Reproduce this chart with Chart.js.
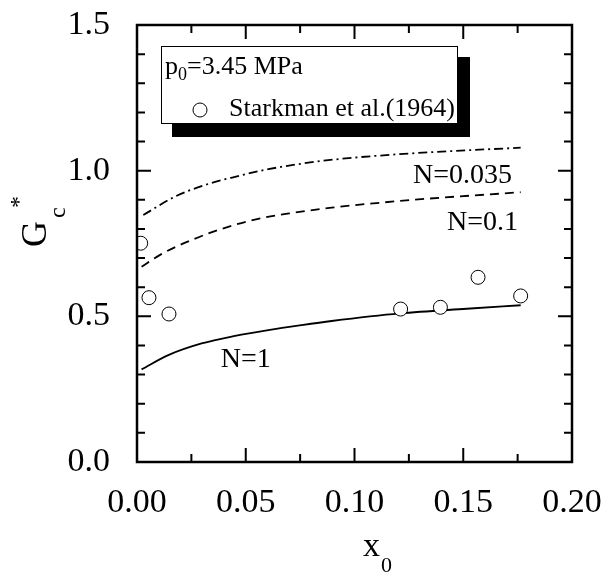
<!DOCTYPE html>
<html lang="en">
<head>
    <meta charset="UTF-8">
    <title>Gc* vs x0</title>
    <script src="https://cdn.jsdelivr.net/npm/chart.js"></script>
    <style>
        * {
            margin: 0;
            padding: 0;
            box-sizing: border-box;
        }

        body {
            background-color: #fff;
            width: 606px;
            height: 573px;
            overflow: hidden;
        }

        canvas {
            display: block;
        }
    </style>
</head>
<body>
    <canvas id="gcChart" width="606" height="573"></canvas>

    <script>
        // curves (model, three values of N)
        const xN1 = [0.0021, 0.0144, 0.0297, 0.0451, 0.0604, 0.0757, 0.0895, 0.121, 0.1516, 0.1764];
        const yN1 = [0.318, 0.367, 0.407, 0.433, 0.453, 0.470, 0.484, 0.510, 0.526, 0.538];

        const xN01 = [0.0021, 0.0106, 0.0251, 0.0405, 0.0573, 0.0726, 0.0895, 0.1255, 0.1764];
        const yN01 = [0.670, 0.711, 0.762, 0.804, 0.837, 0.856, 0.873, 0.899, 0.926];

        const xN0035 = [0.0029, 0.0175, 0.0313, 0.0451, 0.0604, 0.0757, 0.0903, 0.1255, 0.1764];
        const yN0035 = [0.848, 0.911, 0.951, 0.979, 1.005, 1.024, 1.038, 1.059, 1.079];

        // Starkman et al. (1964)
        const xExp = [0.0017, 0.0055, 0.0147, 0.1212, 0.1395, 0.1568, 0.1764];
        const yExp = [0.751, 0.564, 0.508, 0.525, 0.531, 0.634, 0.570];

        const xTicks = [0, 0.05, 0.10, 0.15, 0.20];
        const yTicks = [0, 0.5, 1.0, 1.5];

        // curve labels: text, x, y (data units, left/baseline)
        const curveLabels = [
            ['N=0.035', 0.1269, 0.958],
            ['N=0.1', 0.1425, 0.797],
            ['N=1', 0.0385, 0.326]
        ];

        const SERIF = "'Liberation Serif', 'Times New Roman', serif";

        function toPoints(xs, ys) {
            return xs.map((x, i) => ({ x: x, y: ys[i] }));
        }

        function lineSet(xs, ys, dash) {
            return {
                data: toPoints(xs, ys),
                showLine: true,
                borderColor: '#000',
                borderWidth: 1.8,
                borderDash: dash,
                pointRadius: 0,
                cubicInterpolationMode: 'monotone',
                fill: false
            };
        }

        function sub(ctx, str, size, x, y) {
            ctx.font = size + 'px ' + SERIF;
            ctx.fillText(str, x, y);
            return x + ctx.measureText(str).width;
        }

        // no extra room for overhanging tick labels, the layout padding handles it
        function fixBox(s, w, h) {
            if (w) s.width = w;
            if (h) s.height = h;
            s.paddingTop = 0;
            s.paddingBottom = 0;
            s.paddingLeft = 0;
            s.paddingRight = 0;
        }

        const framePlugin = {
            id: 'frame',
            afterDatasetsDraw(chart) {
                const ctx = chart.ctx;
                const a = chart.chartArea;
                const xs = chart.scales.x;
                const ys = chart.scales.y;
                ctx.save();
                ctx.strokeStyle = '#000';
                ctx.fillStyle = '#000';

                // inward ticks, all four sides
                ctx.lineWidth = 2;
                ctx.beginPath();
                for (let i = 0; i <= 8; i++) {
                    const px = xs.getPixelForValue(i * 0.025);
                    const len = i % 2 === 0 ? 14 : 8;
                    ctx.moveTo(px, a.bottom); ctx.lineTo(px, a.bottom - len);
                    ctx.moveTo(px, a.top); ctx.lineTo(px, a.top + len);
                }
                for (let i = 0; i <= 15; i++) {
                    const py = ys.getPixelForValue(i * 0.1);
                    const len = i % 5 === 0 ? 14 : 8;
                    ctx.moveTo(a.left, py); ctx.lineTo(a.left + len, py);
                    ctx.moveTo(a.right, py); ctx.lineTo(a.right - len, py);
                }
                ctx.stroke();

                ctx.lineWidth = 2.5;
                ctx.strokeRect(a.left, a.top, a.right - a.left, a.bottom - a.top);

                // legend box with shadow
                ctx.fillRect(172, 57, 298, 80);
                ctx.fillStyle = '#fff';
                ctx.fillRect(161, 46, 297, 77);
                ctx.lineWidth = 1;
                ctx.strokeRect(161.5, 46.5, 296, 77);
                ctx.fillStyle = '#000';
                ctx.textBaseline = 'alphabetic';
                ctx.textAlign = 'left';
                let tx = sub(ctx, 'p', 26, 165, 74);
                tx = sub(ctx, '0', 18, tx, 80);
                sub(ctx, '=3.45 MPa', 26, tx, 74);
                ctx.beginPath();
                ctx.arc(200, 110, 7, 0, Math.PI * 2);
                ctx.stroke();
                sub(ctx, 'Starkman et al.(1964)', 26, 229, 116);

                // curve labels
                curveLabels.forEach(l => {
                    sub(ctx, l[0], 28, xs.getPixelForValue(l[1]), ys.getPixelForValue(l[2]));
                });

                // axis titles
                tx = sub(ctx, 'x', 34, 363, 556);
                sub(ctx, '0', 22, tx + 1, 572);

                ctx.save();
                ctx.translate(46, 247);
                ctx.rotate(-Math.PI / 2);
                sub(ctx, 'G', 36, 0, 0);
                sub(ctx, 'c', 24, 29, 19);
                sub(ctx, '*', 24, 39, -20);
                ctx.restore();

                ctx.restore();
            }
        };

        new Chart(document.getElementById('gcChart'), {
            type: 'scatter',
            data: {
                datasets: [
                    lineSet(xN1, yN1, []),
                    lineSet(xN01, yN01, [9, 6]),
                    lineSet(xN0035, yN0035, [9, 4, 2, 4]),
                    {
                        data: toPoints(xExp, yExp),
                        showLine: false,
                        pointStyle: 'circle',
                        pointRadius: 7,
                        pointBorderWidth: 1,
                        pointBorderColor: '#000',
                        pointBackgroundColor: '#fff',
                        clip: { left: 0, right: false, top: false, bottom: false }
                    }
                ].reverse()
            },
            options: {
                responsive: false,
                animation: false,
                layout: { padding: { top: 25, right: 34, left: 0, bottom: 0 } },
                plugins: {
                    legend: { display: false },
                    tooltip: { enabled: false }
                },
                scales: {
                    x: {
                        type: 'linear',
                        min: 0,
                        max: 0.2,
                        afterBuildTicks: s => { s.ticks = xTicks.map(v => ({ value: v })); },
                        afterFit: s => fixBox(s, 0, 111),
                        grid: { display: false },
                        border: { display: false },
                        ticks: {
                            padding: 13,
                            color: '#000',
                            font: { family: SERIF, size: 34 },
                            callback: v => v.toFixed(2)
                        }
                    },
                    y: {
                        type: 'linear',
                        min: 0,
                        max: 1.5,
                        afterBuildTicks: s => { s.ticks = yTicks.map(v => ({ value: v })); },
                        afterFit: s => fixBox(s, 137, 0),
                        grid: { display: false },
                        border: { display: false },
                        ticks: {
                            padding: 19,
                            color: '#000',
                            font: { family: SERIF, size: 34 },
                            callback: v => v.toFixed(1)
                        }
                    }
                }
            },
            plugins: [framePlugin]
        });
    </script>
</body>
</html>
